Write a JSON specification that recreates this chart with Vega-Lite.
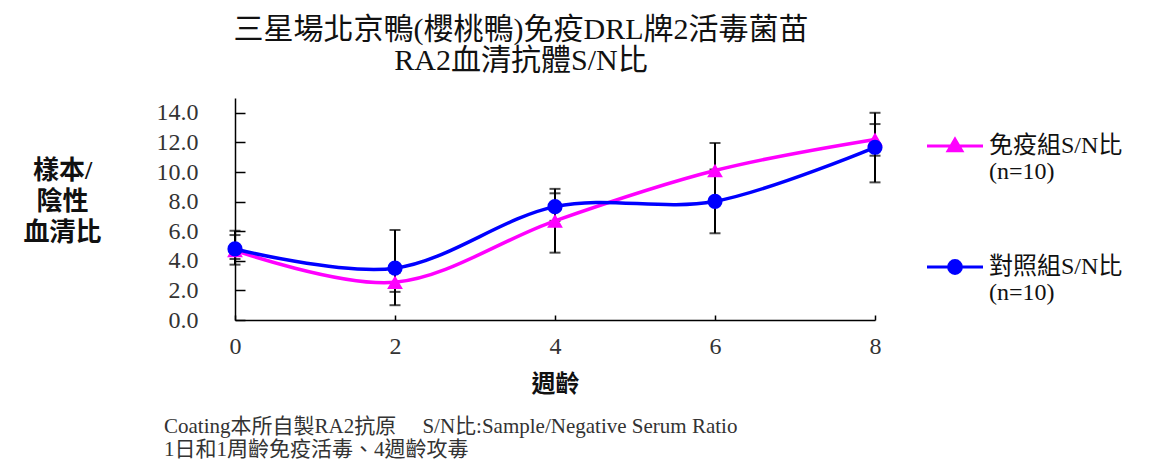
{
  "$schema": "https://vega.github.io/schema/vega-lite/v6.json",
  "background": "white",
  "padding": {"left": 22, "top": 15, "right": 5, "bottom": 0},
  "config": {
    "view": {"stroke": null},
    "font": "Liberation Serif, Noto Sans CJK TC",
    "axisY": {
      "values": [0, 2, 4, 6, 8, 10, 12, 14], "format": ".1f",
      "titleAngle": 0, "titleAlign": "center", "titleBaseline": "middle",
      "titleX": -173, "titleY": 72,
      "titleFontSize": 26, "titleFontWeight": "bold", "titleLineHeight": 31, "titleColor": "#111",
      "labelFontSize": 24, "labelColor": "#333", "labelPadding": 47,
      "labelFlush": false, "labelOverlap": false,
      "tickSize": -10, "tickColor": "black", "tickWidth": 1.5,
      "domainColor": "black", "domainWidth": 1.5, "grid": false
    },
    "legend": {
      "orient": "right", "offset": 24, "padding": 36,
      "symbolSize": 256, "labelFontSize": 24, "labelColor": "#111",
      "labelFont": "Liberation Serif, Noto Sans CJK TC",
      "labelOffset": 22, "rowPadding": 70, "labelLimit": 0
    }
  },
  "title": {
    "text": ["三星場北京鴨(櫻桃鴨)免疫DRL牌2活毒菌苗", "RA2血清抗體S/N比"],
    "font": "Liberation Serif, Noto Sans CJK TC",
    "fontSize": 30, "fontWeight": "normal", "color": "#111",
    "lineHeight": 31, "anchor": "middle", "dx": -70, "offset": 22
  },
  "datasets": {
    "d": [
      {"week": 0, "series": "免疫組S/N比", "mean": 4.7, "lo": 4.12, "hi": 5.74},
      {"week": 2, "series": "免疫組S/N比", "mean": 2.55, "lo": 1.9, "hi": 3.2},
      {"week": 4, "series": "免疫組S/N比", "mean": 6.7, "lo": 4.55, "hi": 8.86},
      {"week": 6, "series": "免疫組S/N比", "mean": 10.1, "lo": 8.2, "hi": 11.96},
      {"week": 8, "series": "免疫組S/N比", "mean": 12.2, "lo": 11.1, "hi": 13.24},
      {"week": 0, "series": "對照組S/N比", "mean": 4.8, "lo": 3.74, "hi": 6.03},
      {"week": 2, "series": "對照組S/N比", "mean": 3.5, "lo": 1.0, "hi": 6.08},
      {"week": 4, "series": "對照組S/N比", "mean": 7.66, "lo": 6.7, "hi": 8.56},
      {"week": 6, "series": "對照組S/N比", "mean": 8.02, "lo": 5.86, "hi": 10.17},
      {"week": 8, "series": "對照組S/N比", "mean": 11.67, "lo": 9.3, "hi": 14.0}
    ]
  },
  "vconcat": [
    {
      "width": 640,
      "height": 222,
      "title": {
        "text": ["Coating本所自製RA2抗原\u00a0\u00a0\u00a0\u00a0\u00a0S/N比:Sample/Negative Serum Ratio", "1日和1周齡免疫活毒、4週齡攻毒"],
        "orient": "bottom", "anchor": "start", "frame": "group", "dx": -71,
        "font": "Liberation Serif, Noto Sans CJK TC",
        "fontSize": 21, "fontWeight": "normal", "color": "#333", "lineHeight": 23, "offset": 20
      },
      "data": {"name": "d"},
      "encoding": {
        "x": {
          "field": "week", "type": "quantitative",
          "scale": {"domain": [0, 8], "nice": false},
          "axis": {
            "values": [0, 2, 4, 6, 8], "format": "d", "title": "週齡",
            "titleFontSize": 24, "titleFontWeight": "bold", "titleColor": "#111", "titlePadding": 14,
            "labelFontSize": 24, "labelColor": "#333", "labelPadding": 19, "labelFlush": false,
            "tickSize": -5, "tickColor": "black", "tickWidth": 1.5,
            "domainColor": "black", "domainWidth": 1.5, "grid": false
          }
        }
      },
      "layer": [
        {
          "mark": {"type": "rule", "color": "black", "strokeWidth": 2},
          "encoding": {
            "y": {
              "field": "lo", "type": "quantitative",
              "scale": {"domain": [0, 15], "nice": false, "zero": true},
              "axis": {"title": ["樣本/", "陰性", "血清比"], "values": [0, 2, 4, 6, 8, 10, 12, 14]}
            },
            "y2": {"field": "hi"}
          }
        },
        {
          "mark": {"type": "tick", "orient": "horizontal", "color": "black", "thickness": 2, "size": 11},
          "encoding": {"y": {"field": "lo", "type": "quantitative", "axis": {"title": ["樣本/", "陰性", "血清比"], "values": [0, 2, 4, 6, 8, 10, 12, 14]}}}
        },
        {
          "mark": {"type": "tick", "orient": "horizontal", "color": "black", "thickness": 2, "size": 11},
          "encoding": {"y": {"field": "hi", "type": "quantitative", "axis": {"title": ["樣本/", "陰性", "血清比"], "values": [0, 2, 4, 6, 8, 10, 12, 14]}}}
        },
        {
          "mark": {"type": "line", "interpolate": "cardinal", "strokeWidth": 3.5},
          "encoding": {
            "y": {"field": "mean", "type": "quantitative", "axis": {"title": ["樣本/", "陰性", "血清比"], "values": [0, 2, 4, 6, 8, 10, 12, 14]}},
            "color": {
              "field": "series", "type": "nominal",
              "scale": {"domain": ["免疫組S/N比", "對照組S/N比"], "range": ["#FF00FF", "#0000FF"]},
              "legend": {
                "title": null,
                "labelExpr": "[datum.label, '(n=10)']",
                "encode": {
                  "symbols": {"update": {
                    "shape": {"signal": "datum.value === '免疫組S/N比' ? 'M-3.5,0L3.5,0M0,-0.85L0.85,0.6L-0.85,0.6Z' : 'M-3.5,0L3.5,0M-0.8,0A0.8,0.8 0 1,0 0.8,0A0.8,0.8 0 1,0 -0.8,0Z'"},
                    "stroke": {"signal": "scale('color', datum.value)"},
                    "fill": {"signal": "scale('color', datum.value)"},
                    "strokeWidth": {"value": 3},
                    "opacity": {"value": 1}
                  }},
                  "labels": {"update": {"dy": {"value": 0}, "lineHeight": {"value": 26}}}
                }
              }
            }
          }
        },
        {
          "transform": [{"filter": "datum.series === '免疫組S/N比'"}],
          "mark": {"type": "point", "filled": true, "opacity": 1, "size": 250, "shape": "triangle-up"},
          "encoding": {
            "y": {"field": "mean", "type": "quantitative", "axis": {"title": ["樣本/", "陰性", "血清比"], "values": [0, 2, 4, 6, 8, 10, 12, 14]}},
            "color": {
              "field": "series", "type": "nominal",
              "scale": {"domain": ["免疫組S/N比", "對照組S/N比"], "range": ["#FF00FF", "#0000FF"]},
              "legend": {
                "title": null,
                "labelExpr": "[datum.label, '(n=10)']",
                "encode": {
                  "symbols": {"update": {
                    "shape": {"signal": "datum.value === '免疫組S/N比' ? 'M-3.5,0L3.5,0M0,-0.85L0.85,0.6L-0.85,0.6Z' : 'M-3.5,0L3.5,0M-0.8,0A0.8,0.8 0 1,0 0.8,0A0.8,0.8 0 1,0 -0.8,0Z'"},
                    "stroke": {"signal": "scale('color', datum.value)"},
                    "fill": {"signal": "scale('color', datum.value)"},
                    "strokeWidth": {"value": 3},
                    "opacity": {"value": 1}
                  }},
                  "labels": {"update": {"dy": {"value": 0}, "lineHeight": {"value": 26}}}
                }
              }
            }
          }
        },
        {
          "transform": [{"filter": "datum.series === '對照組S/N比'"}],
          "mark": {"type": "point", "filled": true, "opacity": 1, "size": 230, "shape": "circle"},
          "encoding": {
            "y": {"field": "mean", "type": "quantitative", "axis": {"title": ["樣本/", "陰性", "血清比"], "values": [0, 2, 4, 6, 8, 10, 12, 14]}},
            "color": {
              "field": "series", "type": "nominal",
              "scale": {"domain": ["免疫組S/N比", "對照組S/N比"], "range": ["#FF00FF", "#0000FF"]},
              "legend": {
                "title": null,
                "labelExpr": "[datum.label, '(n=10)']",
                "encode": {
                  "symbols": {"update": {
                    "shape": {"signal": "datum.value === '免疫組S/N比' ? 'M-3.5,0L3.5,0M0,-0.85L0.85,0.6L-0.85,0.6Z' : 'M-3.5,0L3.5,0M-0.8,0A0.8,0.8 0 1,0 0.8,0A0.8,0.8 0 1,0 -0.8,0Z'"},
                    "stroke": {"signal": "scale('color', datum.value)"},
                    "fill": {"signal": "scale('color', datum.value)"},
                    "strokeWidth": {"value": 3},
                    "opacity": {"value": 1}
                  }},
                  "labels": {"update": {"dy": {"value": 0}, "lineHeight": {"value": 26}}}
                }
              }
            }
          }
        }
      ]
    }
  ]
}
